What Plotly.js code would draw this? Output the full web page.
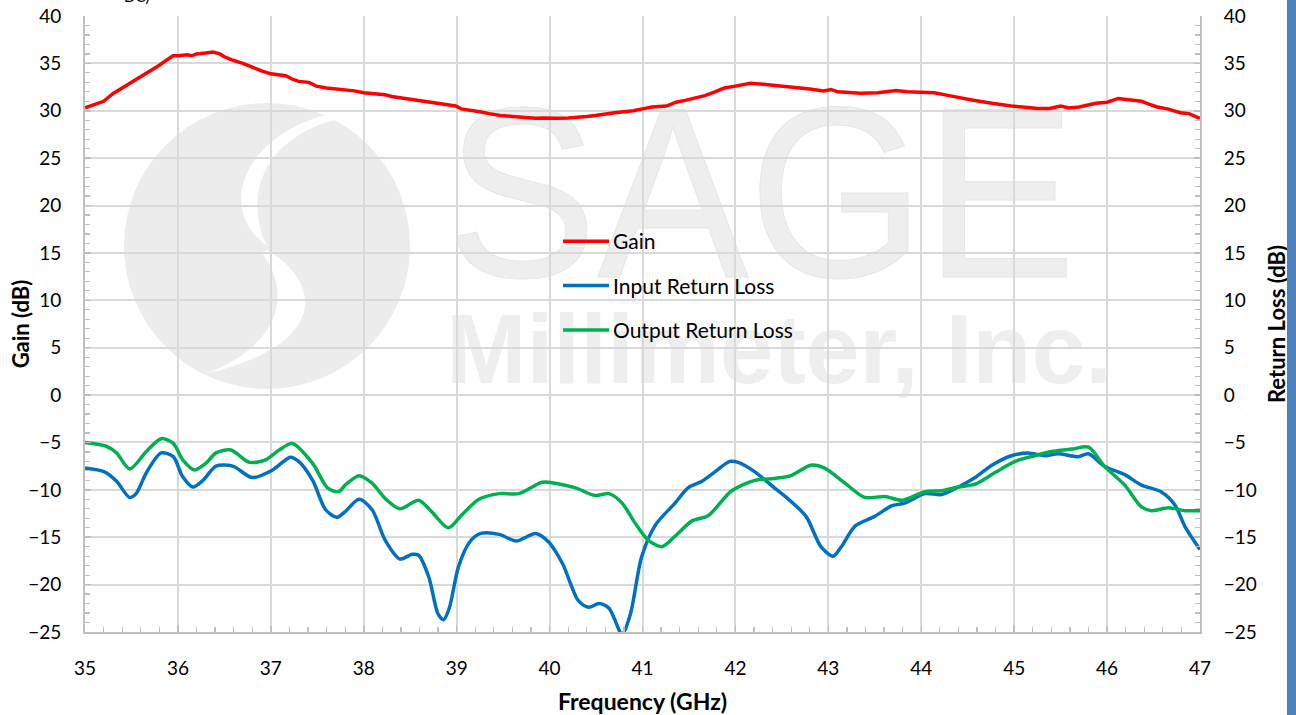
<!DOCTYPE html>
<html>
<head>
<meta charset="utf-8">
<script src="https://cdn.plot.ly/plotly-3.0.1.min.js"></script>
<style>
  html, body { margin:0; padding:0; background:#ffffff; overflow:hidden; }
  #wrap { position:relative; width:1296px; height:715px; }
  #bg { position:absolute; left:0; top:0; width:1296px; height:715px; z-index:0; }
  #chart { position:absolute; left:0; top:0; width:1296px; height:715px; z-index:1; }
  #bar { position:absolute; left:1287px; top:0; width:9px; height:715px; background:#4f81bd; z-index:2; }
  #cut { position:absolute; left:124px; top:-13px; font-family:Lato, sans-serif; font-size:15px; color:#000; z-index:2; }
</style>
</head>
<body>
<div id="wrap">
  <svg id="bg" width="1296" height="715" xmlns="http://www.w3.org/2000/svg">
    <circle cx="267" cy="246" r="143" fill="#ececec"/>
    <path d="M330,114 C 250,132 212,205 267,246 C 246,205 255,140 338,119 Z" fill="#ffffff"/>
    <path d="M267,250 C 322,282 330,345 205,374 C 282,345 292,292 262,253 Z" fill="#ffffff"/>
    <text x="446" y="277" font-family="Liberation Sans, Arial, sans-serif" font-size="244" fill="#eeeeee" stroke="#e6e6e6" stroke-width="1" textLength="630" lengthAdjust="spacingAndGlyphs">SAGE</text>
    <text x="446" y="383" font-family="Liberation Sans, Arial, sans-serif" font-weight="bold" font-size="98" fill="#eeeeee" textLength="666" lengthAdjust="spacingAndGlyphs">Millimeter, Inc.</text>
  </svg>
  <div id="cut">DC)</div>
  <div id="chart"></div>
  <div id="bar"></div>
</div>
<script>
// Gain (dB) vs frequency (GHz)
const gainFreq = [35.0,35.1,35.2,35.3,35.4,35.5,35.6,35.7,35.8,35.9,35.95,36.0,36.1,36.15,36.2,36.3,36.38,36.45,36.5,36.6,36.7,36.8,36.9,37.0,37.1,37.16,37.24,37.3,37.41,37.49,37.6,37.7,37.82,37.9,38.0,38.1,38.23,38.3,38.44,38.6,38.75,38.89,38.99,39.05,39.14,39.25,39.35,39.47,39.6,39.75,39.85,39.95,40.08,40.2,40.3,40.4,40.49,40.6,40.7,40.8,40.9,41.0,41.1,41.26,41.36,41.46,41.57,41.67,41.78,41.88,42.0,42.16,42.3,42.5,42.65,42.8,42.95,43.03,43.1,43.2,43.35,43.53,43.73,43.85,44.0,44.14,44.3,44.45,44.56,44.76,44.97,45.15,45.25,45.38,45.5,45.59,45.7,45.88,46.0,46.12,46.2,46.3,46.37,46.45,46.54,46.65,46.79,46.88,47.0];
const gainDb   = [30.3,30.7,31.0,31.8,32.4,32.9,33.6,34.2,34.8,35.5,35.8,35.8,35.9,35.8,36.0,36.1,36.2,36.0,35.7,35.3,35.0,34.6,34.2,33.9,33.8,33.7,33.3,33.1,33.0,32.6,32.4,32.3,32.25,32.1,31.9,31.8,31.7,31.5,31.3,31.0,30.8,30.6,30.5,30.2,30.1,29.9,29.7,29.5,29.4,29.3,29.2,29.25,29.2,29.25,29.3,29.4,29.5,29.7,29.8,29.9,30.0,30.2,30.4,30.5,30.9,31.1,31.4,31.6,32.0,32.4,32.6,32.9,32.8,32.6,32.5,32.3,32.1,32.25,32.0,31.95,31.85,31.9,32.15,32.0,31.95,31.9,31.6,31.3,31.1,30.8,30.5,30.35,30.25,30.25,30.5,30.3,30.4,30.8,30.9,31.3,31.2,31.1,31.0,30.7,30.4,30.2,29.8,29.7,29.2];

// Input return loss (dB)
const inFreq = [35.0,35.21,35.34,35.48,35.55,35.66,35.82,35.95,36.05,36.16,36.27,36.41,36.59,36.8,37.02,37.21,37.3,37.45,37.59,37.71,37.8,37.95,38.09,38.23,38.39,38.52,38.59,38.7,38.8,38.86,38.92,39.02,39.14,39.26,39.46,39.64,39.85,39.99,40.14,40.31,40.42,40.53,40.64,40.78,40.87,40.99,41.14,41.35,41.49,41.64,41.78,41.94,42.03,42.21,42.42,42.56,42.76,42.92,43.05,43.14,43.29,43.5,43.68,43.82,44.04,44.22,44.4,44.58,44.76,44.97,45.15,45.33,45.47,45.69,45.8,45.97,46.19,46.37,46.58,46.73,46.84,47.0];
const inDb   = [-7.7,-8.1,-9.1,-10.8,-10.4,-8.2,-6.1,-6.5,-8.6,-9.7,-9.0,-7.5,-7.5,-8.7,-7.9,-6.55,-7.0,-9.0,-12.1,-12.9,-12.3,-11.0,-12.1,-15.3,-17.3,-16.8,-16.9,-19.2,-23.1,-23.7,-22.5,-18.1,-15.5,-14.6,-14.7,-15.4,-14.6,-15.5,-17.8,-21.7,-22.4,-22.0,-22.5,-25.2,-23.1,-17.1,-13.7,-11.4,-9.8,-9.1,-8.1,-7.0,-7.1,-8.1,-9.8,-10.9,-12.8,-16.0,-17.0,-16.0,-13.8,-12.8,-11.7,-11.4,-10.4,-10.5,-9.7,-8.7,-7.4,-6.4,-6.1,-6.4,-6.2,-6.5,-6.2,-7.5,-8.4,-9.5,-10.2,-11.6,-13.9,-16.3];

// Output return loss (dB)
const outFreq = [35.0,35.23,35.34,35.48,35.66,35.82,35.95,36.05,36.18,36.3,36.41,36.57,36.77,36.95,37.09,37.23,37.45,37.61,37.73,37.8,37.95,38.09,38.23,38.39,38.59,38.73,38.91,39.05,39.24,39.46,39.67,39.92,40.06,40.28,40.49,40.64,40.78,40.92,41.06,41.21,41.35,41.53,41.71,41.96,42.21,42.42,42.6,42.81,42.96,43.18,43.39,43.61,43.79,44.04,44.22,44.4,44.58,44.79,45.01,45.22,45.4,45.62,45.8,45.97,46.19,46.37,46.48,46.66,46.84,47.0];
const outDb   = [-5.0,-5.4,-6.1,-7.8,-5.95,-4.6,-5.1,-6.8,-7.9,-7.2,-6.1,-5.8,-7.1,-6.8,-5.8,-5.1,-7.2,-9.8,-10.2,-9.5,-8.5,-9.3,-10.9,-12.0,-11.1,-12.3,-14.0,-12.7,-11.0,-10.4,-10.4,-9.2,-9.3,-9.8,-10.6,-10.4,-11.4,-13.5,-15.3,-16.0,-14.9,-13.3,-12.7,-10.1,-9.0,-8.8,-8.5,-7.4,-7.7,-9.3,-10.8,-10.7,-11.1,-10.2,-10.1,-9.7,-9.4,-8.2,-7.0,-6.4,-5.95,-5.7,-5.5,-7.5,-9.5,-11.8,-12.2,-11.9,-12.2,-12.2];

const seriesNames = ['Gain', 'Input Return Loss', 'Output Return Loss'];
const xTitle = 'Frequency (GHz)';
const yTitle = 'Gain (dB)';
const y2Title = 'Return Loss (dB)';

const FONT = 'Lato, "Open Sans", sans-serif';
const gridC = '#d9d9d9';
const lineC = '#bfbfbf';

const traces = [
  { x: gainFreq, y: gainDb, name: seriesNames[0], type: 'scatter', mode: 'lines',
    line: { color: '#ff0000', width: 3.5 }, legendgroup: 'g1', yaxis: 'y' },
  { x: inFreq, y: inDb, name: seriesNames[1], type: 'scatter', mode: 'lines',
    line: { color: '#0070c0', width: 3.5, shape: 'spline', smoothing: 0.8 }, legendgroup: 'g2', yaxis: 'y2' },
  { x: outFreq, y: outDb, name: seriesNames[2], type: 'scatter', mode: 'lines',
    line: { color: '#00b050', width: 3.5, shape: 'spline', smoothing: 0.8 }, legendgroup: 'g3', yaxis: 'y2' }
];

const yCommon = {
  range: [-25, 40], dtick: 5, tick0: 0,
  showline: true, linecolor: lineC, linewidth: 2,
  ticks: 'inside', ticklen: 6, tickcolor: lineC, tickwidth: 1.5,
  minor: { dtick: 1, ticks: 'inside', ticklen: 5, tickcolor: lineC, tickwidth: 1.2, showgrid: false },
  tickfont: { family: FONT, size: 19, color: '#000' },
  zeroline: false, ticklabelstandoff: 18
};

const layout = {
  width: 1296, height: 715,
  margin: { l: 85, r: 96, t: 16, b: 83, pad: 0 },
  paper_bgcolor: 'rgba(0,0,0,0)',
  plot_bgcolor: 'rgba(0,0,0,0)',
  font: { family: FONT, color: '#000' },
  showlegend: true,
  legend: {
    x: 0.4287, y: 0.667, xanchor: 'left', yanchor: 'top',
    bgcolor: 'rgba(0,0,0,0)', borderwidth: 0,
    font: { family: FONT, size: 21, color: '#000' },
    tracegroupgap: 14, traceorder: 'grouped', itemwidth: 40
  },
  xaxis: {
    range: [35, 47], dtick: 1, tick0: 35,
    showgrid: true, gridcolor: gridC, gridwidth: 2,
    showline: true, linecolor: lineC, linewidth: 2,
    ticks: 'inside', ticklen: 6, tickcolor: lineC, tickwidth: 1.5,
    minor: { dtick: 0.2, ticks: 'inside', ticklen: 5, tickcolor: lineC, tickwidth: 1.2, showgrid: false },
    tickfont: { family: FONT, size: 19, color: '#000' },
    ticklabelstandoff: 18, zeroline: false,
    title: { text: xTitle, font: { family: FONT, size: 23, color: '#000', weight: 'bold' }, standoff: 18 }
  },
  yaxis: Object.assign({}, yCommon, {
    showgrid: true, gridcolor: gridC, gridwidth: 2,
    title: { text: yTitle, font: { family: FONT, size: 22, color: '#000', weight: 'bold' }, standoff: 0 }
  }),
  yaxis2: Object.assign({}, yCommon, {
    overlaying: 'y', side: 'right', showgrid: false,
    title: { text: y2Title, font: { family: FONT, size: 22, color: '#000', weight: 'bold' }, standoff: 14 }
  })
};

function fixLegendLines(gd) {
  gd.querySelectorAll('.legend .traces').forEach(function (item) {
    var t = item.querySelector('.legendtext');
    var p = item.querySelector('.legendlines path');
    if (!t || !p) return;
    var tx = parseFloat(t.getAttribute('x')) || 40;
    p.setAttribute('d', 'M' + (tx - 57) + ',0h53');
  });
  var yt = gd.querySelector('.ytitle');
  if (yt && !yt.getAttribute('data-shifted')) {
    yt.setAttribute('transform', 'translate(7,0) ' + (yt.getAttribute('transform') || ''));
    yt.setAttribute('data-shifted', '1');
  }
}

Plotly.newPlot('chart', traces, layout, { staticPlot: true, displayModeBar: false }).then(function (gd) {
  fixLegendLines(gd);
  setTimeout(function () { fixLegendLines(gd); }, 50);
  setTimeout(function () { fixLegendLines(gd); }, 400);
});
</script>
</body>
</html>
